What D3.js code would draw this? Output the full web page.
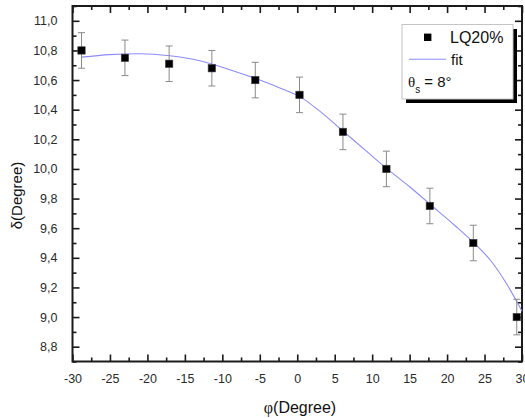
<!DOCTYPE html>
<html>
<head>
<meta charset="utf-8">
<script src="https://cdn.jsdelivr.net/npm/d3@7"></script>
<style>
  html, body { margin: 0; padding: 0; background: #fff; }
  svg { display: block; }
  text { font-family: "Liberation Sans", Arial, sans-serif; }
</style>
</head>
<body>
<svg id="chart" width="525" height="418"></svg>
<script>
// ---- data ----
const phi = [-28.8, -23.0, -17.1, -11.4, -5.6, 0.3, 6.1, 11.9, 17.7, 23.5, 29.3];
const delta = [10.80, 10.75, 10.71, 10.68, 10.60, 10.50, 10.25, 10.00, 9.75, 9.50, 9.00];
const deltaErr = [0.12, 0.12, 0.12, 0.12, 0.12, 0.12, 0.12, 0.12, 0.12, 0.12, 0.12];

const fitPhi = [-28.8, -25, -21, -17, -13, -9, -5, -2, 0.3, 3, 6, 9, 12, 15, 18, 21, 23.5, 26, 28, 30];
const fitDelta = [10.755, 10.772, 10.778, 10.764, 10.73, 10.67, 10.60, 10.54, 10.49, 10.39, 10.26, 10.13, 10.00, 9.88, 9.75, 9.62, 9.505, 9.37, 9.22, 9.04];

const xTicks = [-30, -25, -20, -15, -10, -5, 0, 5, 10, 15, 20, 25, 30];
const xMinorTicks = [-27.5, -22.5, -17.5, -12.5, -7.5, -2.5, 2.5, 7.5, 12.5, 17.5, 22.5, 27.5];
const yTicks = [8.8, 9.0, 9.2, 9.4, 9.6, 9.8, 10.0, 10.2, 10.4, 10.6, 10.8, 11.0];
const yTickLabels = ["8,8", "9,0", "9,2", "9,4", "9,6", "9,8", "10,0", "10,2", "10,4", "10,6", "10,8", "11,0"];
const yMinorTicks = [8.7, 8.9, 9.1, 9.3, 9.5, 9.7, 9.9, 10.1, 10.3, 10.5, 10.7, 10.9, 11.1];

const seriesName = "LQ20%";
const fitName = "fit";

// ---- layout ----
const L = 72.5, R = 522, T = 6, B = 361.5;
const svg = d3.select("#chart");
const x = d3.scaleLinear().domain([-30, 30]).range([L, R]);
const y = d3.scaleLinear().domain([8.7, 11.1]).range([B, T]);

const axisColor = "#1a1a1a";
const labelColor = "#2a2a2a";

function styleAxis(g) {
  g.select(".domain").remove();
  g.selectAll(".tick line").attr("stroke", axisColor).attr("stroke-width", 1.6);
  g.selectAll(".tick text").attr("fill", labelColor)
    .style("font-size", "12.5px").style("font-family", "'Liberation Sans', Arial, sans-serif");
}

// bottom major with labels
svg.append("g").attr("transform", `translate(0,${B})`)
  .call(d3.axisBottom(x).tickValues(xTicks).tickSizeInner(-7).tickSizeOuter(0).tickPadding(13).tickFormat(d => d))
  .call(styleAxis);
svg.append("g").attr("transform", `translate(0,${B})`)
  .call(d3.axisBottom(x).tickValues(xMinorTicks).tickSizeInner(-4).tickSizeOuter(0).tickFormat(""))
  .call(styleAxis);
// top
svg.append("g").attr("transform", `translate(0,${T})`)
  .call(d3.axisTop(x).tickValues(xTicks).tickSizeInner(-7).tickSizeOuter(0).tickFormat(""))
  .call(styleAxis);
svg.append("g").attr("transform", `translate(0,${T})`)
  .call(d3.axisTop(x).tickValues(xMinorTicks).tickSizeInner(-4).tickSizeOuter(0).tickFormat(""))
  .call(styleAxis);
// left
svg.append("g").attr("transform", `translate(${L},0)`)
  .call(d3.axisLeft(y).tickValues(yTicks).tickSizeInner(-7).tickSizeOuter(0).tickPadding(15)
    .tickFormat((d, i) => yTickLabels[i]))
  .call(styleAxis);
svg.append("g").attr("transform", `translate(${L},0)`)
  .call(d3.axisLeft(y).tickValues(yMinorTicks).tickSizeInner(-4).tickSizeOuter(0).tickFormat(""))
  .call(styleAxis);
// right
svg.append("g").attr("transform", `translate(${R},0)`)
  .call(d3.axisRight(y).tickValues(yTicks).tickSizeInner(-7).tickSizeOuter(0).tickFormat(""))
  .call(styleAxis);
svg.append("g").attr("transform", `translate(${R},0)`)
  .call(d3.axisRight(y).tickValues(yMinorTicks).tickSizeInner(-4).tickSizeOuter(0).tickFormat(""))
  .call(styleAxis);

// frame
svg.append("rect").attr("x", L).attr("y", T).attr("width", R - L).attr("height", B - T)
  .attr("fill", "none").attr("stroke", axisColor).attr("stroke-width", 2);

// fit curve
const line = d3.line().x(d => x(d[0])).y(d => y(d[1])).curve(d3.curveMonotoneX);
svg.append("path").datum(fitPhi.map((p, i) => [p, fitDelta[i]]))
  .attr("d", line).attr("fill", "none").attr("stroke", "#8c8cff").attr("stroke-width", 1.1);

// error bars
const pts = phi.map((p, i) => ({ p, d: delta[i], e: deltaErr[i] }));
const eb = svg.append("g").attr("stroke", "#8a8a8a").attr("stroke-width", 1);
eb.selectAll("line.v").data(pts).join("line")
  .attr("x1", d => x(d.p)).attr("x2", d => x(d.p))
  .attr("y1", d => y(d.d - d.e)).attr("y2", d => y(d.d + d.e));
eb.selectAll("line.t").data(pts).join("line")
  .attr("x1", d => x(d.p) - 3.5).attr("x2", d => x(d.p) + 3.5)
  .attr("y1", d => y(d.d + d.e)).attr("y2", d => y(d.d + d.e));
eb.selectAll("line.b").data(pts).join("line")
  .attr("x1", d => x(d.p) - 3.5).attr("x2", d => x(d.p) + 3.5)
  .attr("y1", d => y(d.d - d.e)).attr("y2", d => y(d.d - d.e));

// markers
svg.append("g").selectAll("rect").data(pts).join("rect")
  .attr("x", d => x(d.p) - 3.7).attr("y", d => y(d.d) - 3.7)
  .attr("width", 7.4).attr("height", 7.4)
  .attr("fill", "#000").attr("stroke", "#444").attr("stroke-width", 0.6);

// legend
const lg = svg.append("g");
lg.append("rect").attr("x", 406).attr("y", 29).attr("width", 111).attr("height", 74).attr("fill", "#000");
lg.append("rect").attr("x", 402).attr("y", 24.5).attr("width", 111).attr("height", 74.5)
  .attr("fill", "#fff").attr("stroke", "#c4c4c4").attr("stroke-width", 1);
lg.append("rect").attr("x", 424).attr("y", 33.6).attr("width", 7.4).attr("height", 7.4).attr("fill", "#000");
lg.append("text").attr("x", 450).attr("y", 43).attr("fill", "#111").style("font-size", "16px").text(seriesName);
lg.append("line").attr("x1", 409).attr("x2", 446).attr("y1", 59.3).attr("y2", 59.3)
  .attr("stroke", "#8c8cff").attr("stroke-width", 1.1);
lg.append("text").attr("x", 451).attr("y", 65).attr("fill", "#111").style("font-size", "15px").text(fitName);
const th = lg.append("text").attr("x", 408).attr("y", 87).attr("fill", "#111");
th.append("tspan").style("font-family", "'Liberation Serif', 'Times New Roman', serif").style("font-size", "15px").text("θ");
th.append("tspan").attr("dy", 6).style("font-size", "10px").text("s");
th.append("tspan").attr("dy", -6).style("font-size", "15px").text(" = 8°");

// axis titles
const xt = svg.append("text").attr("x", 300).attr("y", 413).attr("text-anchor", "middle")
  .attr("fill", "#111").style("font-size", "16px");
xt.append("tspan").style("font-family", "'Liberation Serif', 'Times New Roman', serif").text("φ");
xt.append("tspan").text("(Degree)");

svg.append("text").attr("transform", "translate(22,195.5) rotate(-90)").attr("text-anchor", "middle")
  .attr("fill", "#111").style("font-size", "15px").text("δ(Degree)");
</script>
</body>
</html>
